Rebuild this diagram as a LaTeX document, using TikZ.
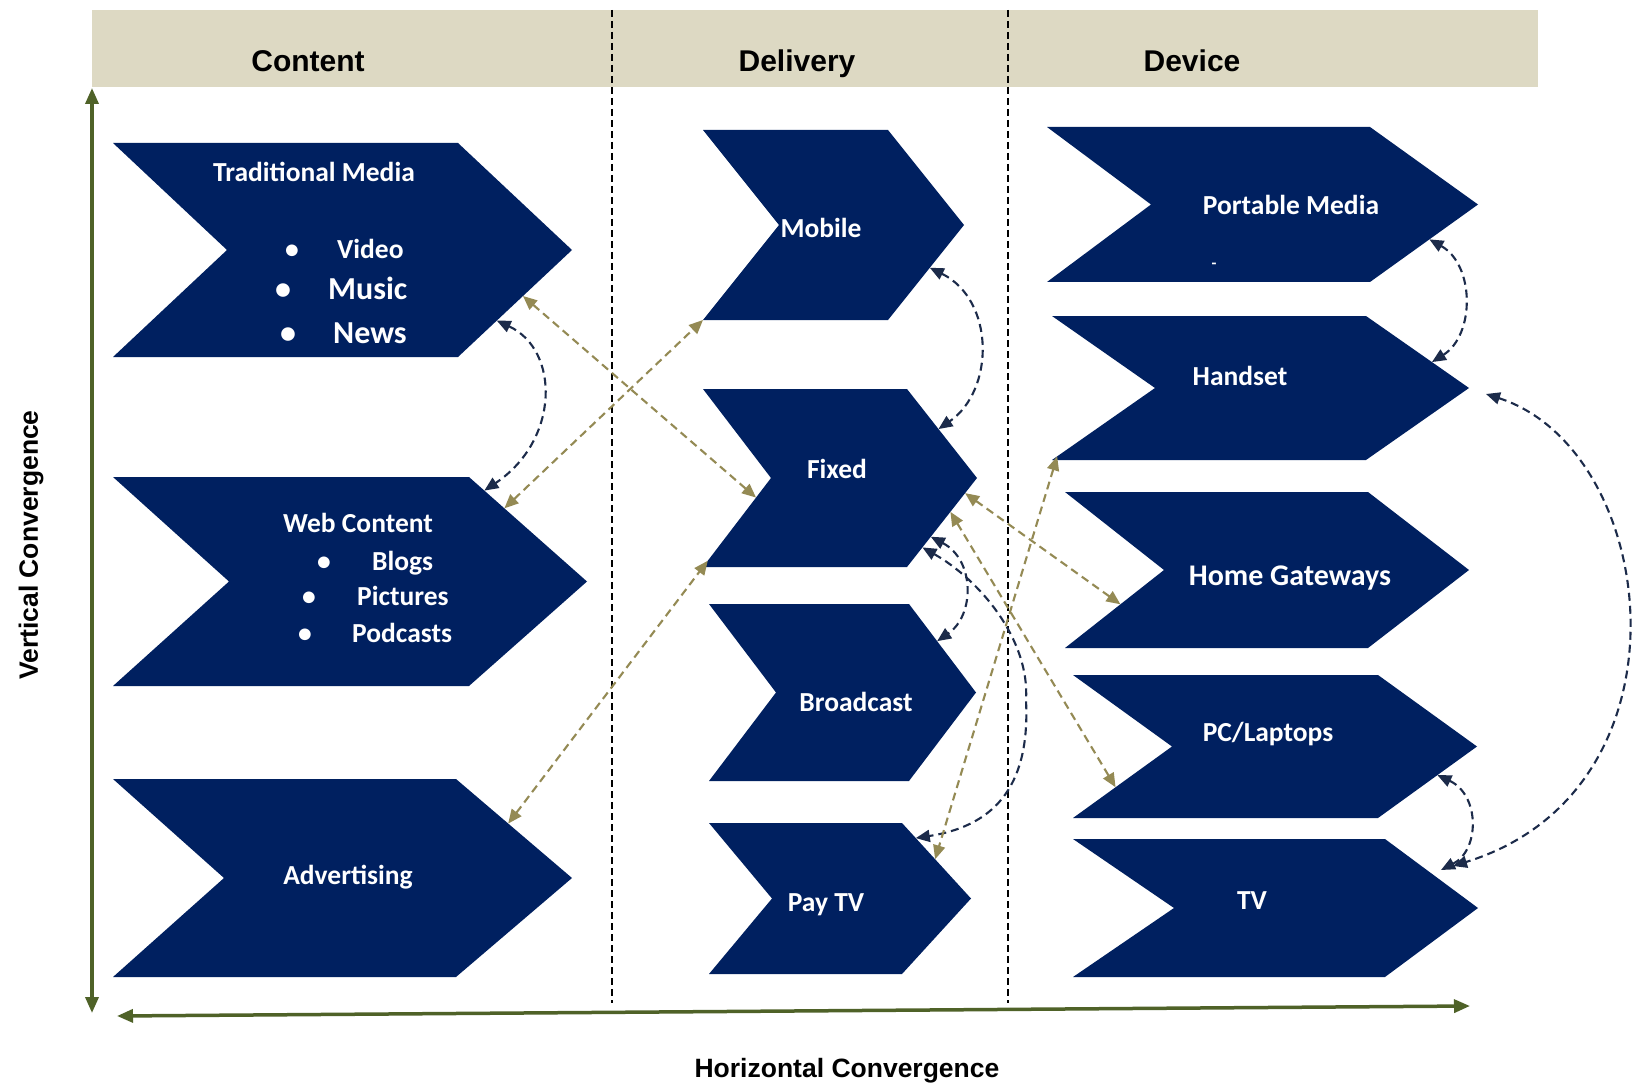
\documentclass[tikz,border=0pt]{standalone}
\usepackage{fontspec}
\setmainfont{Carlito}
\newfontfamily\hdfont{Liberation Sans}
\usetikzlibrary{arrows.meta,calc}
\definecolor{navy}{HTML}{002060}
\definecolor{bandc}{HTML}{DDD9C3}
\definecolor{axisc}{HTML}{4F6228}
\definecolor{khaki}{HTML}{948A54}
\definecolor{darkc}{HTML}{1C2B4A}
\newcommand\mychev[7]{%
  \coordinate (#1-tl) at (#2,#3);
  \coordinate (#1-tr) at (#4,#3);
  \coordinate (#1-tip) at (#5,{(#3+#6)/2});
  \coordinate (#1-br) at (#4,#6);
  \coordinate (#1-bl) at (#2,#6);
  \coordinate (#1-notch) at (#7,{(#3+#6)/2});
  \fill[chevfill] (#1-tl) -- (#1-tr) -- (#1-tip) -- (#1-br) -- (#1-bl) -- (#1-notch) -- cycle;
}
\tikzset{
  chevfill/.style={fill=navy},
  boxtxt/.style={text=white, inner sep=0pt, font=\bfseries\fontsize{27.5}{30}\selectfont},
  bigtxt/.style={text=white, inner sep=0pt, font=\bfseries\fontsize{32}{34}\selectfont},
  hdr/.style={text=black, inner sep=0pt, font={\hdfont\bfseries\fontsize{30}{34}\selectfont}},
  axlabel/.style={text=black, inner sep=0pt, font={\hdfont\bfseries\fontsize{26.5}{30}\selectfont}},
  sepline/.style={draw=black, line width=1.6pt, dash pattern=on 7pt off 4pt},
  conn/.style={line width=2.1pt, dash pattern=on 8pt off 5pt,
    {Triangle[length=14pt,width=12pt]}-{Triangle[length=14pt,width=12pt]}},
  darkconn/.style={conn, draw=darkc},
  khakiconn/.style={conn, draw=khaki},
  axisarrow/.style={draw=axisc, line width=3.5pt,
    {Triangle[length=16pt,width=13pt]}-{Triangle[length=16pt,width=13pt]}}
}
\begin{document}
\begin{tikzpicture}[x=1pt,y=-1pt]
\useasboundingbox (0,0) rectangle (1634,1086);
\fill[white] (0,0) rectangle (1634,1086);
% header band
\fill[bandc] (92,10) rectangle (1538,87);
\draw[sepline] (612,10) -- (612,1003);
\draw[sepline] (1008,10) -- (1008,1003);
\node[hdr, anchor=base] (hcontent) at (308,72) {Content};
\node[hdr, anchor=base] (hdelivery) at (797,72) {Delivery};
\node[hdr, anchor=base] (hdevice) at (1192,72) {Device};
% chevrons
\mychev{trad}{113}{143}{458}{572}{357}{227}
\mychev{web}{113}{477}{469}{587}{686}{229}
\mychev{adv}{113}{779}{456}{572}{977}{224}
\mychev{mobile}{703}{130}{888}{964}{320}{779}
\mychev{fixed}{703}{389}{907}{977}{567}{771}
\mychev{broad}{709}{604}{909}{976}{781}{776}
\mychev{paytv}{709}{823}{902}{971}{974}{772}
\mychev{port}{1047}{127}{1370}{1478}{282}{1151}
\mychev{hand}{1052}{316}{1366}{1469}{460}{1155}
\mychev{home}{1065}{492}{1368}{1469}{648}{1164}
\mychev{pc}{1073}{675}{1378}{1477}{818}{1172}
\mychev{tv}{1073}{839}{1385}{1478}{977}{1174}
% texts
\node[boxtxt, anchor=base west] (tradt) at (213,182) {Traditional Media};
\node[boxtxt, anchor=base] (b1) at (292,259) {•};
\node[boxtxt, anchor=base west] (video) at (337,259) {Video};
\node[bigtxt, anchor=base] (b2) at (283,300) {•};
\node[bigtxt, anchor=base west] (music) at (328,300) {Music};
\node[bigtxt, anchor=base] (b3) at (288,343) {•};
\node[bigtxt, anchor=base west] (news) at (333,343) {News};
\node[boxtxt, anchor=base west] (webt) at (283,532) {Web Content};
\node[boxtxt, anchor=base] (b4) at (324,570) {•};
\node[boxtxt, anchor=base west] (blogs) at (372,570) {Blogs};
\node[boxtxt, anchor=base] (b5) at (309,605) {•};
\node[boxtxt, anchor=base west] (pics) at (357,605) {Pictures};
\node[boxtxt, anchor=base] (b6) at (305,642) {•};
\node[boxtxt, anchor=base west] (pods) at (352,642) {Podcasts};
\node[boxtxt, anchor=base] (advt) at (348,884) {Advertising};
\node[boxtxt, anchor=base] (mobilet) at (821,238) {Mobile};
\node[boxtxt, anchor=base] (fixedt) at (837,478) {Fixed};
\node[boxtxt, anchor=base] (broadt) at (856,711) {Broadcast};
\node[boxtxt, anchor=base] (paytvt) at (826,911) {Pay TV};
\node[boxtxt, anchor=base] (portt) at (1291,215) {Portable Media};
\node[text=white, inner sep=0pt, font=\bfseries\fontsize{16}{18}\selectfont] (dash) at (1214,266) {-};
\node[boxtxt, anchor=base] (handt) at (1240,385) {Handset};
\node[bigtxt, font=\bfseries\fontsize{30}{32}\selectfont, anchor=base] (homet) at (1290,585) {Home Gateways};
\node[boxtxt, anchor=base] (pct) at (1268,741) {PC/Laptops};
\node[boxtxt, anchor=base] (tvt) at (1252,909) {TV};
% dark dashed connectors
\draw[darkconn] ($(trad-tip)!0.66!(trad-br)$) .. controls (560,350) and (560,440) .. ($(web-tr)!0.13!(web-tip)$);
\draw[darkconn] ($(mobile-tip)!0.45!(mobile-br)$) .. controls (995,300) and (995,390) .. ($(fixed-tr)!0.45!(fixed-tip)$);
\draw[darkconn] ($(fixed-tip)!0.66!(fixed-br)$) .. controls (975,560) and (975,615) .. ($(broad-tr)!0.42!(broad-tip)$);
\draw[darkconn] ($(fixed-tip)!0.78!(fixed-br)$) .. controls (980,580) and (1030,640) .. (1026,700) .. controls (1030,780) and (1000,825) .. ($(paytv-tr)!0.2!(paytv-tip)$);
\draw[darkconn] ($(port-tip)!0.45!(port-br)$) .. controls (1475,265) and (1475,335) .. ($(hand-tr)!0.64!(hand-tip)$);
\draw[darkconn] ($(hand-tip)+(17,6)$) .. controls (1660,450) and (1700,790) .. ($(tv-tr)+(68,27)$);
\draw[darkconn] ($(pc-tip)!0.4!(pc-br)$) .. controls (1480,795) and (1480,850) .. ($(tv-tr)+(56,31)$);
% khaki dashed connectors
\draw[khakiconn] ($(trad-tip)!0.43!(trad-br)$) -- ($(fixed-notch)!0.22!(fixed-bl)$);
\draw[khakiconn] ($(web-tr)!0.3!(web-tip)$) -- (mobile-bl);
\draw[khakiconn] ($(adv-tr)!0.45!(adv-tip)$) -- ($(fixed-notch)!0.93!(fixed-bl)$);
\draw[khakiconn] ($(fixed-tip)!0.17!(fixed-br)$) -- ($(home-notch)!0.44!(home-bl)$);
\draw[khakiconn] ($(fixed-tip)!0.38!(fixed-br)$) -- ($(pc-notch)!0.57!(pc-bl)$);
\draw[khakiconn] ($(hand-notch)!0.95!(hand-bl)$) -- ($(paytv-tr)!0.48!(paytv-tip)$);
% axes
\coordinate (vtop) at (92,88);
\coordinate (vbot) at (92,1013);
\coordinate (hleft) at (117,1016);
\coordinate (hright) at (1470,1006);
\draw[axisarrow] (vbot) -- (vtop);
\draw[axisarrow] (hleft) -- (hright);
\node[axlabel, anchor=base] (hlabel) at (847,1077) {Horizontal Convergence};
\node[axlabel, rotate=90] (vlabel) at (31,545) {Vertical Convergence};
\end{tikzpicture}
\end{document}
